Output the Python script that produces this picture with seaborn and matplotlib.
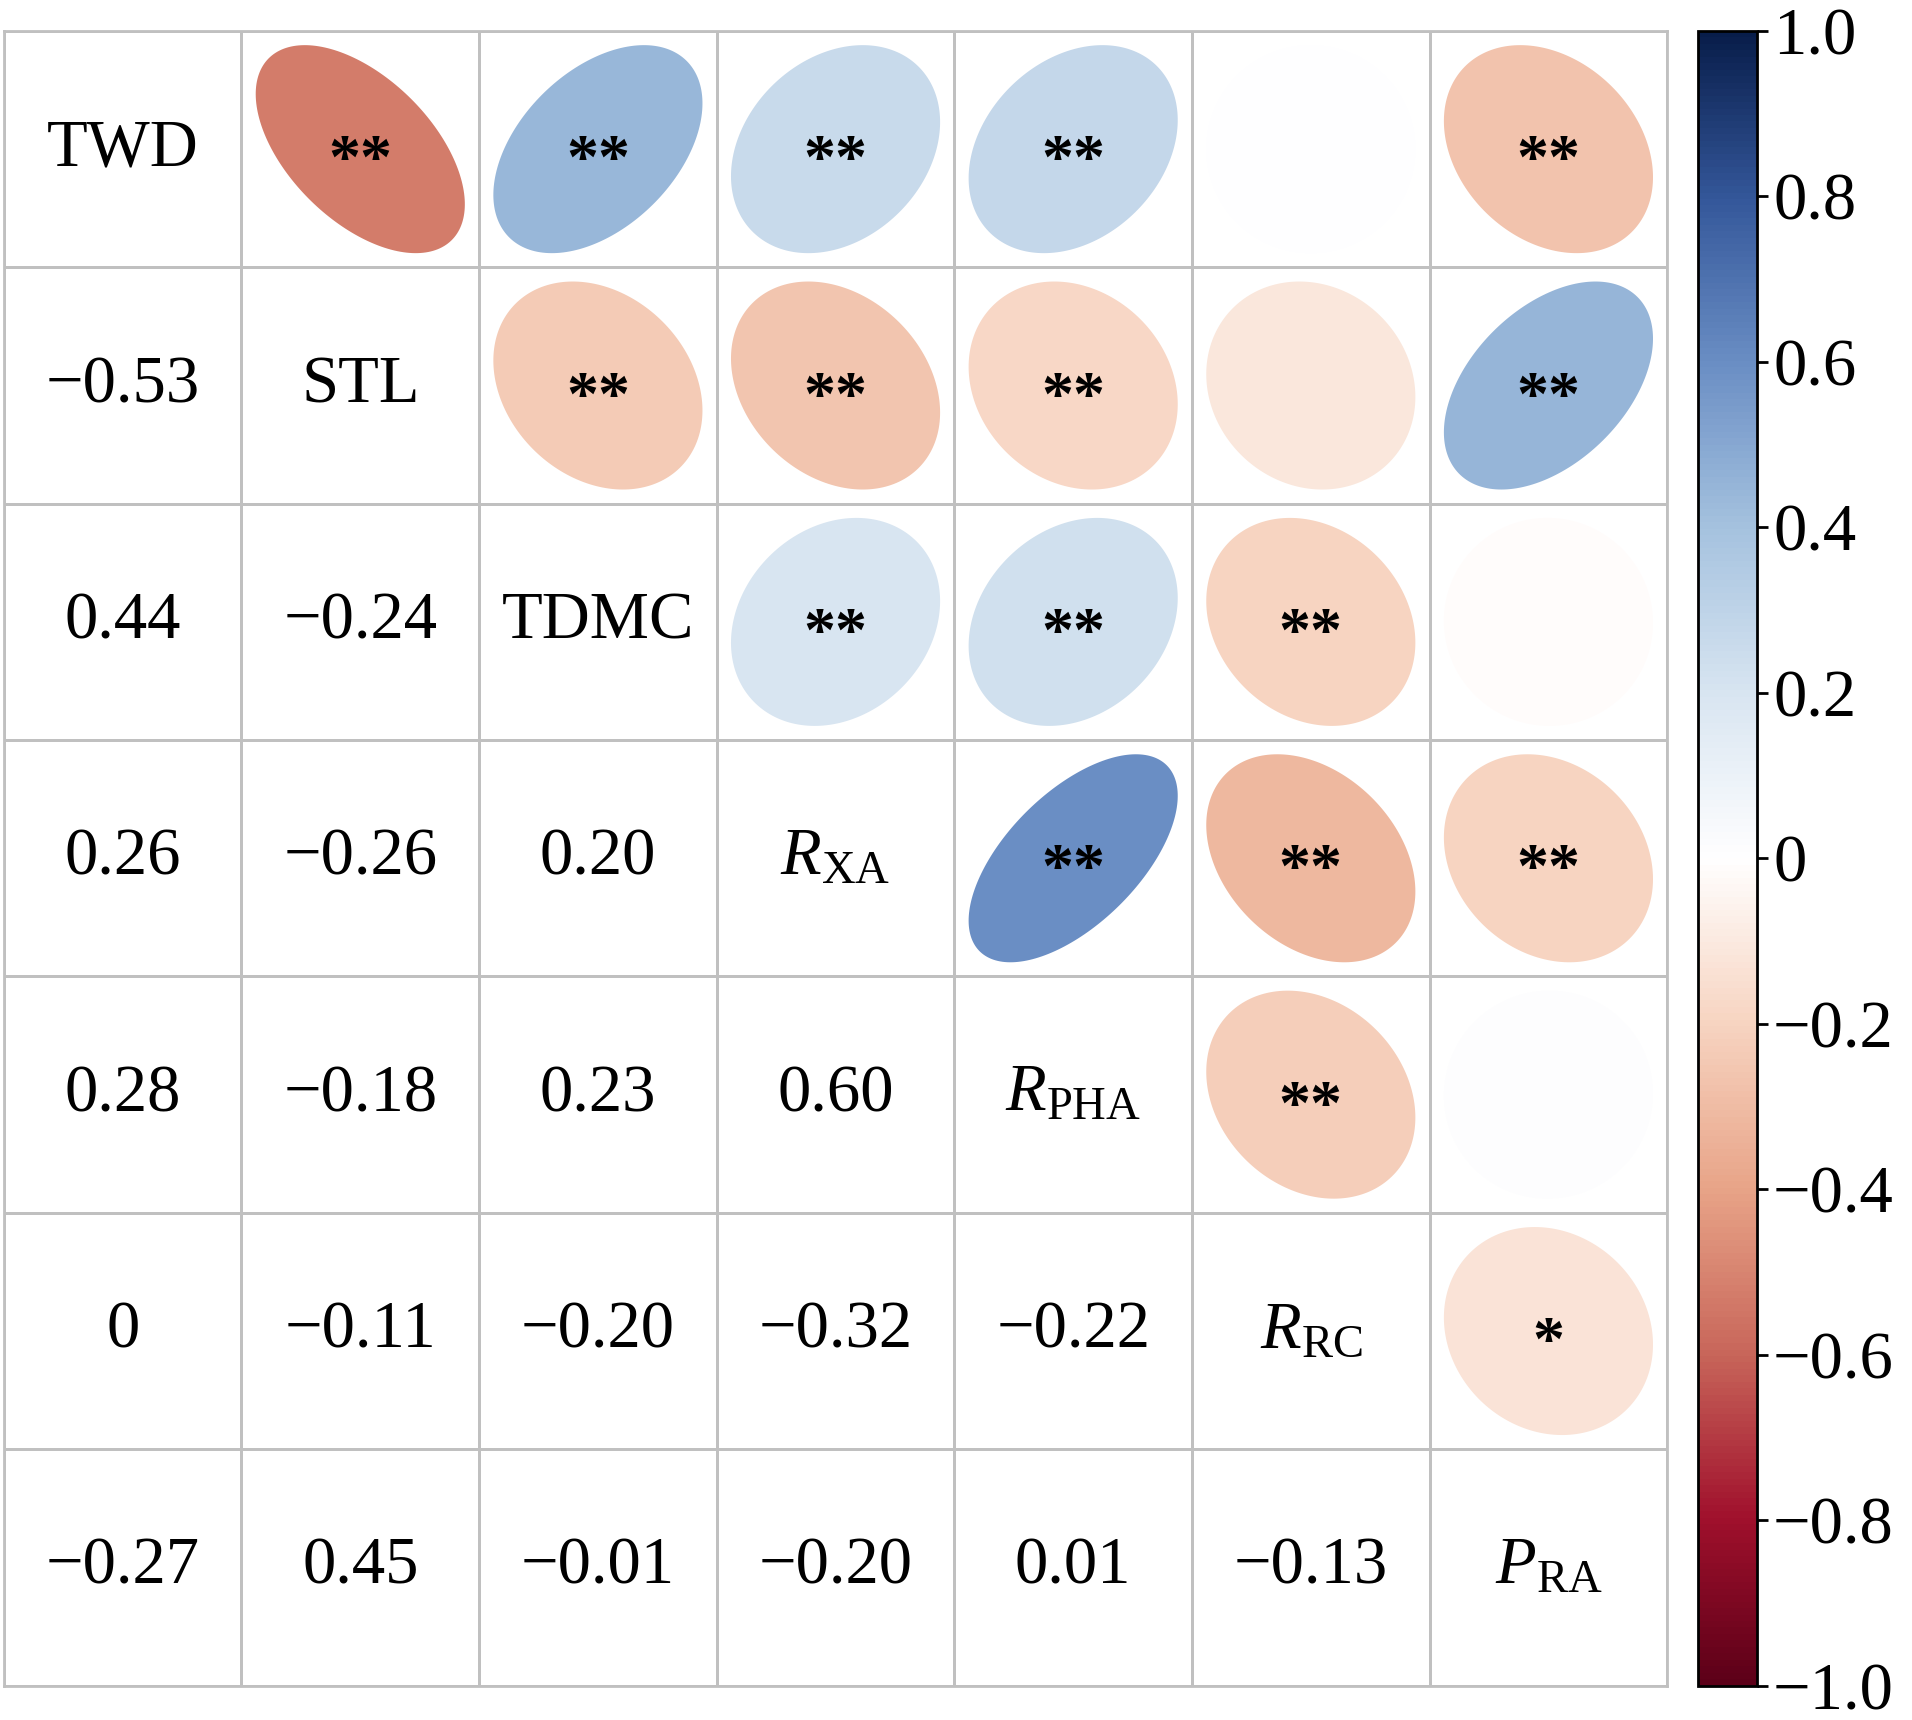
import numpy as np
import matplotlib
matplotlib.use("Agg")
import matplotlib.pyplot as plt
from matplotlib.colors import ListedColormap, LinearSegmentedColormap, Normalize
from matplotlib.patches import Polygon
import matplotlib.colorbar as mcolorbar
import seaborn as sns

sns.set_theme(style="white")
plt.rcParams['font.family'] = ['Liberation Serif', 'DejaVu Serif']
plt.rcParams['text.color'] = 'black'
plt.rcParams['mathtext.fontset'] = 'custom'
plt.rcParams['mathtext.rm'] = 'Liberation Serif'
plt.rcParams['mathtext.it'] = 'Liberation Serif:italic'

labels = ['TWD', 'STL', 'TDMC', r'$R_{\mathrm{XA}}$', r'$R_{\mathrm{PHA}}$',
          r'$R_{\mathrm{RC}}$', r'$P_{\mathrm{RA}}$']
# lower-triangle correlations, row by row
lower = [
    [],
    [-0.53],
    [0.44, -0.24],
    [0.26, -0.26, 0.20],
    [0.28, -0.18, 0.23, 0.60],
    [0.00, -0.11, -0.20, -0.32, -0.22],
    [-0.27, 0.45, -0.01, -0.20, 0.01, -0.13],
]
# significance marks for upper triangle (row i, col j>i)
stars = [
    ['**', '**', '**', '**', '', '**'],
    ['**', '**', '**', '', '**'],
    ['**', '**', '**', ''],
    ['**', '**', '**'],
    ['**', ''],
    ['*'],
]

n = len(labels)
corr = np.eye(n)
for i, row in enumerate(lower):
    for j, v in enumerate(row):
        corr[i, j] = v
        corr[j, i] = v

cmap = LinearSegmentedColormap.from_list('corr', [
    '#5c0018', '#a0102c', '#c8665a', '#e8a488', '#f7d4c1', '#ffffff',
    '#d8e5f1', '#a5c2df', '#6a8ec4', '#34579a', '#081d4a'])
norm = Normalize(-1, 1)

fig = plt.figure(figsize=(19.12, 17.2), dpi=100)
ax = fig.add_axes([0.002, 0.02, 0.870, 0.962])
sns.heatmap(np.zeros((n, n)), ax=ax, cmap=ListedColormap(['white']), cbar=False,
            linewidths=2, linecolor='#c0c0c0', square=False,
            xticklabels=False, yticklabels=False)
for s in ax.spines.values():
    s.set_visible(True)
    s.set_color('#c0c0c0')
    s.set_linewidth(2)

fmt = lambda v: '0' if abs(v) < 1e-9 else f'{v:.2f}'.replace('-', '\u2212')
t = np.linspace(0, 2 * np.pi, 200)
for i in range(n):
    for j in range(n):
        cx, cy = j + 0.5, i + 0.5
        if i == j:
            ax.text(cx, cy, labels[i], ha='center', va='center', fontsize=48)
        elif i > j:
            ax.text(cx, cy, fmt(corr[i, j]), ha='center', va='center', fontsize=48)
        else:
            r = corr[i, j]
            d = np.arccos(np.clip(r, -1, 1))
            s = 0.44
            xs = cx + s * np.cos(t + d / 2)
            ys = cy - s * np.cos(t - d / 2)
            ax.add_patch(Polygon(np.column_stack([xs, ys]), closed=True,
                                 facecolor=cmap(norm(r)), edgecolor='none'))
            mk = stars[i][j - i - 1]
            if mk:
                ax.text(cx, cy + 0.06, mk, ha='center', va='center', fontsize=46,
                        fontweight='bold')

cax = fig.add_axes([0.888, 0.02, 0.031, 0.962])
cb = mcolorbar.ColorbarBase(cax, cmap=cmap, norm=norm)
ticks = np.round(np.arange(-1, 1.01, 0.2), 1)
cb.set_ticks(ticks)
cb.set_ticklabels(['0' if abs(v) < 1e-9 else f'{v:.1f}'.replace('-', '\u2212') for v in ticks])
cb.ax.tick_params(labelsize=48, length=8, width=2, direction='out', colors='black')
cb.outline.set_linewidth(2)
cb.outline.set_edgecolor('black')

fig.savefig('out.png', dpi=100)
